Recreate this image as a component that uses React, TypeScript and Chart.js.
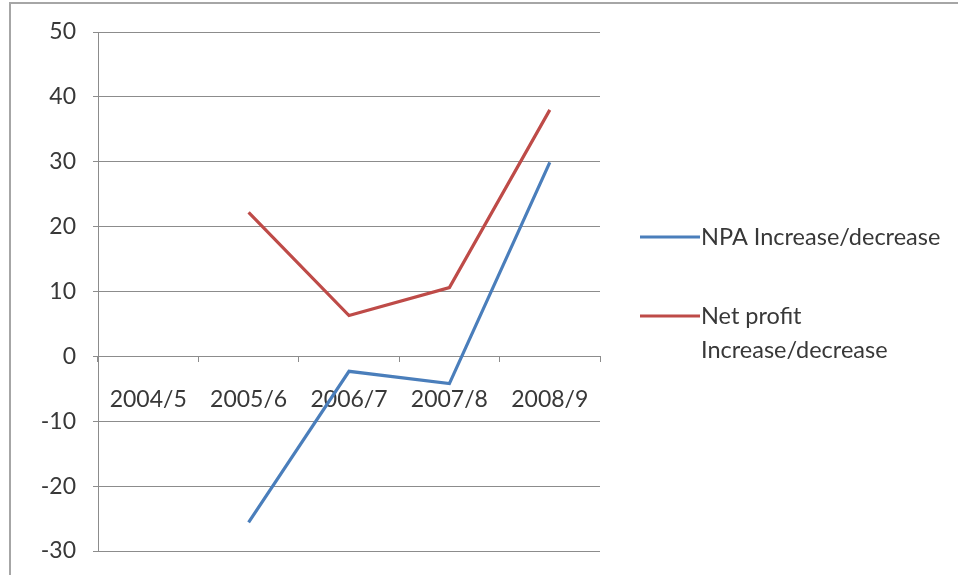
import { useEffect, useRef } from "react";
import { Chart, registerables } from "chart.js";

Chart.register(...registerables);

// Financial years on the category axis
const years = ["2004/5", "2005/6", "2006/7", "2007/8", "2008/9"];
// Year-on-year change (%) — no figure for the first year
const npaChange = [null, -25.6, -2.3, -4.2, 29.9];
const profitChange = [null, 22.2, 6.3, 10.6, 38.0];
// Legend text, one entry per line
const npaLabel = ["NPA Increase/decrease"];
const profitLabel = ["Net profit", "Increase/decrease"];
// Value axis range
const yMin = -30;
const yMax = 50;
const yStep = 10;

const FONT = "Lato, 'Open Sans', sans-serif";
const TEXT = "#383838";
const GRID = "#8c8c8c";

const framePlugin = {
  id: "frame",
  beforeDraw(chart: any) {
    const { ctx, width, height } = chart;
    ctx.save();
    ctx.fillStyle = "#ffffff";
    ctx.fillRect(0, 0, width, height);
    ctx.strokeStyle = "#a6a6a6";
    ctx.lineWidth = 2;
    ctx.beginPath();
    ctx.moveTo(10, height);
    ctx.lineTo(10, 3);
    ctx.lineTo(width, 3);
    ctx.stroke();
    ctx.restore();
  },
};

const sideLegendPlugin = {
  id: "sideLegend",
  afterDraw(chart: any) {
    const { ctx } = chart;
    const x0 = 640;
    const lineLen = 60;
    const rowY = [237, 316];
    const lineGap = 34;
    ctx.save();
    ctx.font = `23.5px ${FONT}`;
    ctx.textBaseline = "middle";
    ctx.textAlign = "left";
    chart.data.datasets.forEach((ds: any, i: number) => {
      const y = rowY[i];
      ctx.strokeStyle = ds.borderColor;
      ctx.lineWidth = 3;
      ctx.beginPath();
      ctx.moveTo(x0, y);
      ctx.lineTo(x0 + lineLen, y);
      ctx.stroke();
      ctx.fillStyle = TEXT;
      (ds.legendLines as string[]).forEach((t, j) => {
        ctx.fillText(t, x0 + lineLen + 1, y + j * lineGap);
      });
    });
    ctx.restore();
  },
};

export default function App() {
  const canvasRef = useRef<HTMLCanvasElement | null>(null);

  useEffect(() => {
    const canvas = canvasRef.current;
    if (!canvas) return;
    const chart = new Chart(canvas, {
      type: "line",
      data: {
        labels: years,
        datasets: [
          {
            label: npaLabel.join(" "),
            legendLines: npaLabel,
            data: npaChange,
            borderColor: "#4a7ebb",
            borderWidth: 3.2,
            pointRadius: 0,
            tension: 0,
          } as any,
          {
            label: profitLabel.join(" "),
            legendLines: profitLabel,
            data: profitChange,
            borderColor: "#be4b48",
            borderWidth: 3.2,
            pointRadius: 0,
            tension: 0,
          } as any,
        ],
      },
      options: {
        responsive: false,
        animation: false,
        layout: { padding: { left: 0, top: 32, right: 358, bottom: 24 } },
        plugins: {
          legend: { display: false },
          tooltip: { enabled: false },
        },
        scales: {
          x: {
            type: "category",
            position: { y: 0 } as any,
            offset: true,
            grid: {
              offset: true,
              drawOnChartArea: false,
              drawTicks: true,
              tickLength: 5,
              color: GRID,
            },
            border: { display: true, color: GRID, width: 1 },
            ticks: {
              color: TEXT,
              font: { family: FONT, size: 23 },
              padding: 24,
              maxRotation: 0,
              autoSkip: false,
            },
          },
          y: {
            min: yMin,
            max: yMax,
            afterFit(scale: any) {
              scale.width = 98;
              // the outer layout padding already leaves room for the end labels
              scale.paddingTop = 0;
              scale.paddingBottom = 0;
            },
            grid: {
              color: GRID,
              tickLength: 5,
              drawTicks: true,
            },
            border: { display: true, color: GRID, width: 1 },
            ticks: {
              stepSize: yStep,
              color: TEXT,
              font: { family: FONT, size: 23 },
              padding: 17,
            },
          },
        },
      },
      plugins: [framePlugin, sideLegendPlugin],
    });
    return () => chart.destroy();
  }, []);

  return (
    <div style={{ position: "fixed", left: 0, top: 0, width: 958, height: 575 }}>
      <canvas ref={canvasRef} width={958} height={575} />
    </div>
  );
}
